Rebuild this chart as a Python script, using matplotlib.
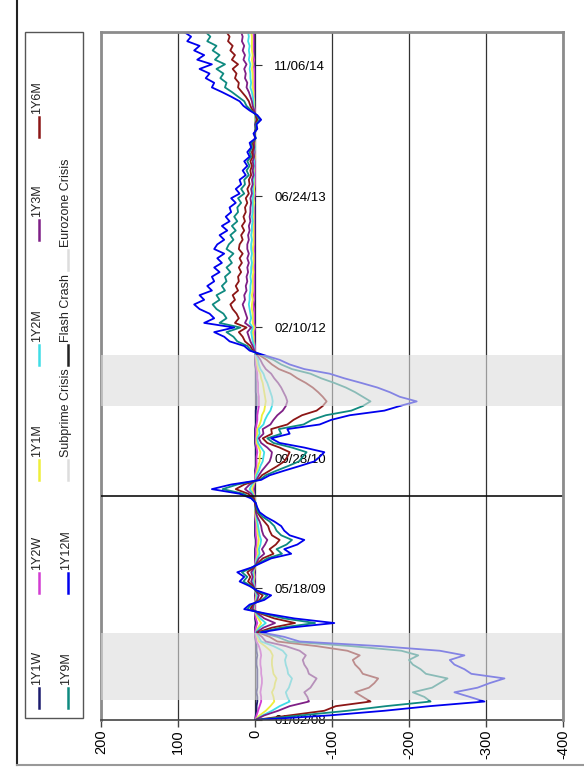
import numpy as np
import pandas as pd
import matplotlib
matplotlib.use('Agg')
import matplotlib.pyplot as plt
import matplotlib.dates as mdates
from matplotlib.lines import Line2D
from matplotlib.patches import Rectangle

plt.rcParams['font.family'] = ['Liberation Sans', 'DejaVu Sans']

# observation window (evenly spaced samples)
start, end = '2008-01-02', '2015-03-12'
n_obs = 150

tenors = ['1Y1W', '1Y2W', '1Y1M', '1Y2M', '1Y3M', '1Y6M', '1Y9M', '1Y12M']
colors = ['#1c1c6e', '#d23cd2', '#eeee3a', '#3fdde6', '#7e1f86', '#8c1616', '#0f8a80', '#0000ee']

s_1y1w = [0, -1, -2, -2, -3, -3, -2, -3, -3, -3,
          -3, -3, -2, -2, -3, -2, -2, -1, 0, 0,
          0, -1, 0, 0, 0, 0, 0, 0, 0, 0,
          0, 0, 0, 0, 0, 0, 0, 0, -1, -1,
          0, 0, 0, 0, 0, 0, 0, 0, 0, 0,
          1, 0, 0, 0, 0, -1, -1, -1, -1, -1,
          0, 0, 0, 0, -1, -1, -1, -1, -2, -2,
          -2, -1, -1, -1, -1, -1, -1, 0, 0, 0,
          0, 0, 0, 0, 0, 0, 0, 0, 0, 1,
          1, 0, 1, 0, 0, 0, 0, 0, 0, 0,
          0, 0, 0, 0, 0, 0, 0, 0, 0, 0,
          0, 0, 0, 0, 0, 0, 0, 0, 0, 0,
          0, 0, 0, 0, 0, 0, 0, 0, 0, 0,
          0, 0, 0, 0, 0, 0, 0, 0, 0, 0,
          0, 0, 0, 1, 0, 1, 0, 1, 1, 1]

s_1y2w = [0, -2, -4, -6, -8, -8, -7, -8, -9, -9,
          -8, -8, -7, -7, -8, -7, -5, -2, -1, 0,
          -1, -3, -1, 0, 0, 0, 0, -1, 0, 0,
          1, 0, 1, 0, 0, -1, -1, -1, -2, -2,
          -1, -1, -1, -1, 0, 0, 0, 0, 0, 1,
          2, 1, 0, 0, -1, -2, -2, -2, -3, -2,
          -1, -1, -1, -1, -2, -3, -3, -4, -5, -5,
          -5, -4, -4, -4, -3, -3, -2, -1, -1, 0,
          0, 0, 1, 1, 1, 0, 1, 1, 1, 1,
          2, 1, 1, 1, 1, 1, 1, 1, 1, 1,
          1, 1, 1, 1, 1, 1, 1, 1, 1, 1,
          1, 1, 1, 1, 0, 1, 0, 0, 0, 0,
          0, 0, 0, 0, 0, 0, 0, 0, 0, 0,
          0, 0, 0, 1, 1, 1, 1, 1, 1, 1,
          1, 1, 2, 1, 2, 2, 2, 2, 2, 2]

s_1y1m = [0, -6, -14, -20, -25, -24, -22, -25, -26, -28,
          -24, -23, -22, -22, -23, -20, -13, -5, -3, -1,
          -4, -8, -4, -1, 1, 1, -1, -2, 0, 1,
          2, 1, 2, 0, -1, -2, -4, -3, -4, -5,
          -4, -3, -3, -2, -1, 0, 0, 0, 0, 2,
          4, 2, -1, -1, -3, -4, -6, -6, -7, -5,
          -2, -2, -3, -3, -6, -8, -9, -12, -13, -14,
          -13, -12, -11, -10, -8, -7, -4, -3, -2, -1,
          1, 1, 2, 2, 3, 1, 3, 3, 3, 4,
          4, 3, 4, 3, 3, 3, 3, 2, 3, 2,
          2, 2, 3, 2, 2, 2, 2, 2, 2, 2,
          2, 2, 1, 2, 1, 1, 1, 1, 1, 1,
          1, 1, 0, 1, 0, 0, 0, 0, 0, 0,
          0, 0, 1, 1, 1, 2, 2, 3, 3, 3,
          3, 4, 3, 4, 3, 4, 4, 4, 4, 5]

s_1y2m = [0, -10, -22, -32, -45, -42, -40, -44, -46, -48,
          -43, -42, -40, -39, -41, -36, -24, -8, -5, -1,
          -6, -14, -7, -2, 2, 1, -2, -3, 0, 1,
          3, 2, 3, 1, -1, -3, -6, -5, -7, -8,
          -6, -5, -4, -3, -2, -1, 0, 0, 1, 3,
          7, 4, -1, -2, -5, -7, -10, -11, -12, -8,
          -4, -3, -6, -5, -11, -13, -16, -20, -22, -23,
          -22, -20, -18, -16, -13, -11, -7, -5, -4, -1,
          1, 1, 3, 4, 5, 3, 7, 5, 6, 7,
          8, 7, 7, 6, 6, 5, 6, 5, 5, 4,
          5, 4, 5, 5, 4, 5, 4, 4, 3, 4,
          3, 3, 3, 3, 2, 3, 2, 2, 1, 2,
          1, 1, 1, 1, 0, 1, 0, 0, 0, 0,
          -1, 0, 1, 2, 2, 3, 4, 6, 5, 6,
          6, 7, 6, 8, 7, 8, 7, 9, 8, 9]

s_1y3m = [0, -12, -30, -45, -70, -68, -64, -72, -76, -80,
          -70, -68, -64, -62, -66, -58, -40, -14, -9, -2,
          -11, -26, -12, -4, 3, 2, -3, -5, -1, 2,
          5, 3, 5, 1, -2, -5, -12, -9, -13, -16,
          -11, -9, -8, -6, -3, -1, -1, 0, 1, 5,
          13, 7, -2, -5, -9, -14, -19, -21, -22, -16,
          -8, -5, -11, -10, -20, -24, -29, -36, -40, -42,
          -40, -37, -34, -30, -25, -21, -14, -10, -7, -3,
          1, 3, 6, 8, 10, 5, 13, 10, 12, 14,
          16, 13, 14, 11, 12, 10, 11, 9, 10, 8,
          10, 8, 10, 10, 8, 9, 7, 8, 6, 7,
          6, 6, 5, 6, 4, 5, 3, 4, 2, 3,
          2, 3, 1, 2, 1, 1, 0, 0, -1, 0,
          -2, -1, 1, 3, 4, 6, 8, 11, 10, 13,
          12, 14, 11, 15, 13, 16, 14, 17, 16, 18]

s_1y6m = [0, -45, -90, -105, -150, -140, -130, -148, -155, -160,
          -140, -136, -130, -127, -136, -120, -80, -29, -19, -4,
          -22, -52, -25, -8, 6, 3, -6, -10, -1, 3,
          9, 6, 10, 2, -4, -10, -24, -19, -27, -32,
          -22, -19, -17, -12, -7, -3, -1, 0, 2, 9,
          25, 14, -4, -9, -19, -29, -38, -42, -45, -32,
          -16, -10, -22, -21, -42, -50, -61, -80, -88, -93,
          -88, -82, -75, -66, -55, -46, -31, -22, -15, -6,
          3, 6, 13, 16, 21, 11, 26, 21, 24, 29,
          32, 26, 29, 22, 25, 21, 22, 18, 21, 17,
          20, 16, 21, 20, 16, 18, 14, 17, 13, 15,
          12, 13, 10, 12, 8, 10, 7, 8, 5, 6,
          4, 6, 3, 4, 2, 3, 0, 1, -1, -1,
          -3, -1, 3, 6, 8, 12, 17, 22, 21, 26,
          24, 29, 22, 30, 26, 32, 29, 35, 33, 37]

s_1y9m = [0, -60, -120, -170, -228, -220, -205, -230, -240, -250,
          -222, -215, -205, -200, -212, -190, -125, -44, -29, -6,
          -34, -78, -38, -12, 10, 5, -9, -16, -2, 5,
          15, 10, 17, 4, -6, -16, -35, -28, -41, -48,
          -34, -28, -25, -19, -10, -4, -2, -1, 4, 15,
          42, 23, -6, -14, -28, -43, -57, -62, -67, -48,
          -24, -16, -34, -31, -63, -74, -92, -125, -140, -150,
          -140, -130, -118, -103, -86, -72, -48, -34, -24, -9,
          5, 10, 23, 28, 37, 19, 46, 37, 41, 50,
          55, 46, 50, 39, 43, 37, 39, 32, 37, 30,
          34, 28, 37, 34, 28, 32, 25, 30, 23, 27,
          22, 23, 18, 22, 14, 18, 13, 14, 8, 11,
          7, 10, 5, 7, 4, 5, -1, 1, -2, -1,
          -6, -2, 5, 11, 14, 22, 30, 39, 37, 45,
          41, 50, 39, 52, 46, 55, 50, 62, 58, 64]

s_1y12m = [0, -97, -168, -227, -298, -279, -259, -289, -305, -324,
           -281, -272, -259, -253, -272, -240, -162, -58, -38, -8,
           -45, -103, -51, -16, 14, 7, -12, -21, -3, 7,
           20, 14, 23, 5, -8, -21, -47, -38, -55, -64,
           -45, -38, -34, -25, -14, -6, -3, -1, 5, 20,
           56, 31, -8, -19, -38, -58, -77, -84, -90, -64,
           -32, -21, -45, -42, -84, -99, -123, -168, -188, -210,
           -188, -175, -159, -138, -116, -97, -64, -45, -32, -12,
           7, 14, 33, 40, 53, 27, 66, 53, 59, 72,
           79, 66, 72, 56, 62, 53, 56, 46, 53, 43,
           49, 40, 53, 49, 40, 46, 36, 43, 33, 38,
           31, 33, 25, 31, 20, 25, 18, 20, 12, 16,
           10, 14, 7, 10, 5, 7, -1, 2, -3, -2,
           -8, -3, 7, 15, 20, 31, 43, 56, 53, 64,
           59, 72, 56, 75, 66, 79, 72, 88, 83, 92]

series = [s_1y1w, s_1y2w, s_1y1m, s_1y2m, s_1y3m, s_1y6m, s_1y9m, s_1y12m]

# crisis periods and events
subprime = ('2008-03-17', '2008-11-28')
eurozone = ('2011-04-14', '2011-10-26')
flash_crash = '2010-05-06'
band_color = '#dddddd'
event_labels = ['Subprime Crisis', 'Flash Crash', 'Eurozone Crisis']
event_colors = [band_color, '#222222', band_color]

date_ticks = ['2008-01-02', '2009-05-18', '2010-09-28', '2012-02-10', '2013-06-24', '2014-11-06']
value_ticks = [200, 100, 0, -100, -200, -300, -400]

W, H = 584, 773
fig = plt.figure(figsize=(W / 100, H / 100), dpi=100)


def fx(px):
    return px / W


def fy(py):
    return 1 - py / H


# the chart is laid out sideways: values run across, time runs upward
ax = fig.add_axes([fx(101), fy(720), fx(563) - fx(101), fy(32) - fy(720)])

dates = mdates.date2num(pd.date_range(start, end, periods=n_obs))
for vals, col in zip(series, colors):
    ax.plot(vals, dates, color=col, lw=1.3, zorder=2)

for a, b in (subprime, eurozone):
    ax.axhspan(mdates.date2num(pd.Timestamp(a)), mdates.date2num(pd.Timestamp(b)),
               color=band_color, alpha=0.6, lw=0, zorder=3)
ax.axhline(mdates.date2num(pd.Timestamp(flash_crash)), color='#111111', lw=1.2, zorder=4)

ax.set_xlim(200, -400)
ax.set_ylim(dates[0], dates[-1])

ax.set_xticks(value_ticks)
ax.set_xticklabels([str(v) for v in value_ticks])
ax.grid(axis='x', color='#333333', lw=0.9)
ax.set_axisbelow(True)
ax.tick_params(axis='x', direction='out', length=5, width=1, color='#444444',
               pad=2, labelsize=10.5, labelrotation=90)

# date axis sits on the zero line
ax.yaxis.tick_right()
tick_dates = pd.to_datetime(date_ticks)
ax.set_yticks(mdates.date2num(tick_dates))
ax.set_yticklabels(tick_dates.strftime('%m/%d/%y'))
ax.tick_params(axis='y', direction='out', length=5, width=0.8, color='#333333',
               pad=9, labelsize=9.5)
for lab in ax.get_yticklabels():
    lab.set_rotation(90)
    lab.set_va('center')
    lab.set_ha('left')
ax.spines['right'].set_position(('data', 0))
ax.spines['right'].set_color('none')

for side in ('left', 'top'):
    ax.spines[side].set_color('#8c8c8c')
    ax.spines[side].set_linewidth(2)
ax.spines['bottom'].set_color('#444444')
ax.spines['bottom'].set_linewidth(1.2)
ax.axvline(-400, color='#8c8c8c', lw=2, clip_on=False, zorder=5)

# legend, drawn by hand so its text can run upward
fig.add_artist(Rectangle((fx(25), fy(718)), fx(83) - fx(25), fy(32) - fy(718),
                         transform=fig.transFigure, fill=False, ec='#555555', lw=1))
legend_pos = [(39, 708), (39, 593), (39, 480), (39, 365), (39, 240), (39, 137),
              (68, 708), (68, 593), (68, 480), (68, 365), (68, 270)]
legend_labels = tenors + event_labels
legend_colors = colors + event_colors
for (lx, ly), lab, col in zip(legend_pos, legend_labels, legend_colors):
    fig.add_artist(Line2D([fx(lx), fx(lx)], [fy(ly), fy(ly - 20)], color=col, lw=1.8))
    fig.text(fx(lx - 2), fy(ly - 23), lab, rotation=90, ha='center', va='bottom',
             fontsize=9, color='#222222')

# outer frame
fig.add_artist(Line2D([fx(17), fx(17)], [fy(0), fy(765)], color='#222222', lw=1.5))
fig.add_artist(Line2D([fx(17), 1], [fy(765), fy(765)], color='#999999', lw=1.5))

fig.savefig('out.png', dpi=100)
